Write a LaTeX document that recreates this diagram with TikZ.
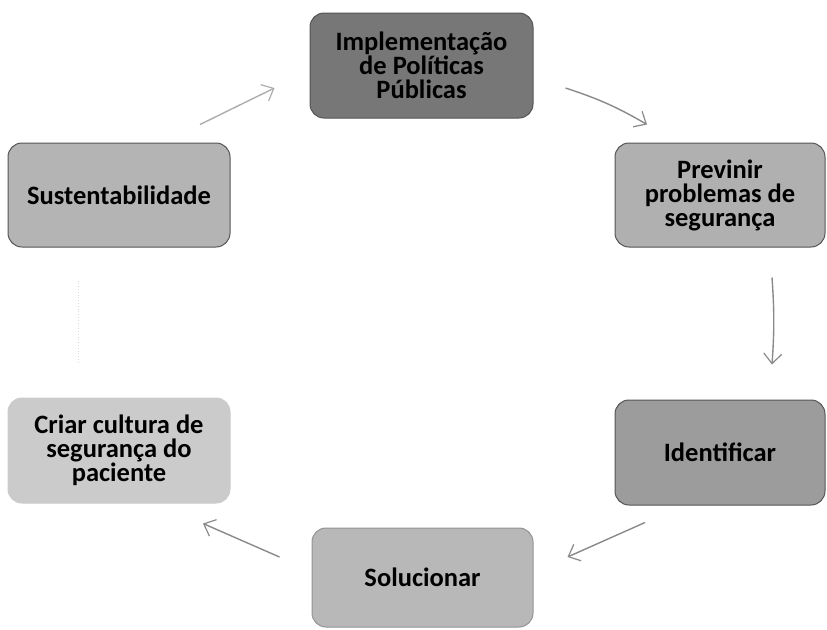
\documentclass[tikz,border=0pt]{standalone}
\usepackage{fontspec}
\setmainfont{Carlito}
\usetikzlibrary{arrows.meta,calc}
\definecolor{cTop}{HTML}{777777}
\definecolor{cPrev}{HTML}{B0B0B0}
\definecolor{cIdent}{HTML}{9C9C9C}
\definecolor{cSol}{HTML}{B8B8B8}
\definecolor{cCriar}{HTML}{CBCBCB}
\definecolor{cSust}{HTML}{B4B4B4}
\definecolor{cArr}{HTML}{8A8A8A}
\definecolor{cEdge}{HTML}{555555}
\tikzset{
  stepbox/.style={rounded corners=14pt, draw=cEdge, line width=1pt, align=center,
    inner sep=0pt, font=\bfseries\fontsize{26.5}{24}\selectfont, text=black},
  arr/.style={draw=cArr, line width=1.4pt, -{Straight Barb[length=10pt,width=18pt,line width=1.2pt]}},
  faint/.style={draw=black!15, line width=0.8pt, dotted}
}
\begin{document}
\begin{tikzpicture}[x=1pt,y=-1pt]
\useasboundingbox (0,0) rectangle (827,629);
\node[stepbox, fill=cTop, minimum width=223pt, minimum height=105pt] (top) at (421.5,65.5) {Implementação\\de Políticas\\Públicas};
\node[stepbox, fill=cPrev, minimum width=210pt, minimum height=104pt] (prev) at (720,195) {Previnir\\problemas de\\segurança};
\node[stepbox, fill=cIdent, minimum width=210pt, minimum height=105pt] (ident) at (720,452.5) {Identificar};
\node[stepbox, fill=cSol, draw=cSol!80!black, minimum width=221pt, minimum height=99pt] (sol) at (422.5,577.5) {Solucionar};
\node[stepbox, fill=cCriar, draw=cCriar, minimum width=222pt, minimum height=105pt] (criar) at (119,450.5) {Criar cultura de\\segurança do\\paciente};
\node[stepbox, fill=cSust, minimum width=222pt, minimum height=104pt] (sust) at (119,195) {Sustentabilidade};

\draw[arr] ($(top.east)+(32,22.5)$) to[bend left=6] ($(prev.north)+(-73,-18)$);
\draw[arr] ($(prev.south)+(52,30)$) to[bend left=4] ($(ident.north)+(52,-35)$);
\draw[arr] ($(ident.south)+(-75,17)$) -- ($(sol.east)+(34,-20.5)$);
\draw[arr] ($(sol.west)+(-32,-20.5)$) -- ($(criar.south)+(84,20)$);
\draw[faint] ($(criar.north)+(-41,-35)$) -- ($(sust.south)+(-41,33)$);
\draw[arr, draw=cArr!70] ($(sust.north)+(81,-18)$) -- ($(top.west)+(-35,22.5)$);
\end{tikzpicture}
\end{document}
